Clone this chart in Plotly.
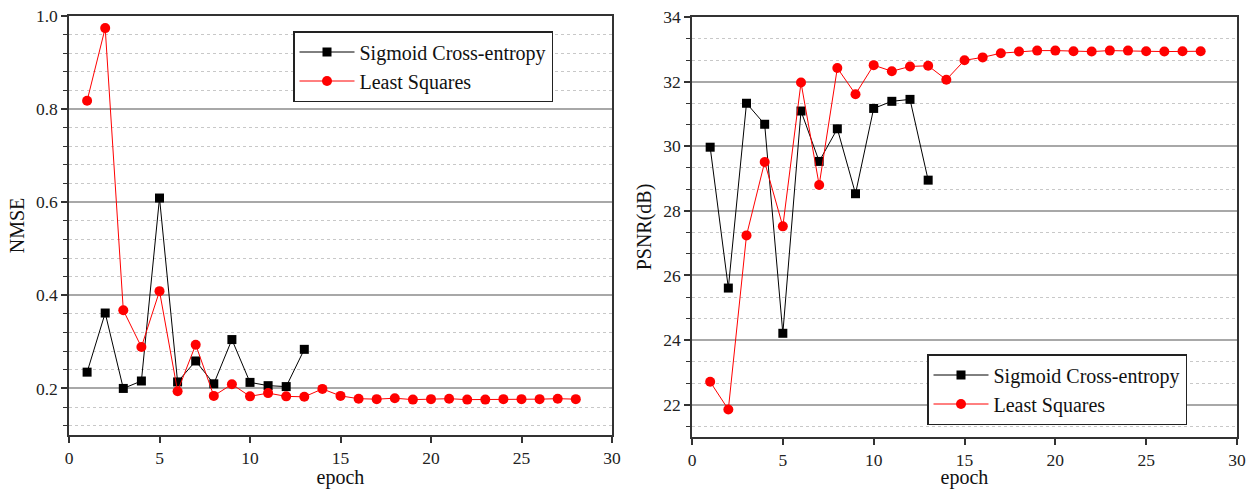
import plotly.graph_objects as go

epochs_sce = list(range(1, 14))
epochs_ls = list(range(1, 29))

nmse_sce = [0.235, 0.362, 0.200, 0.216, 0.609, 0.214, 0.259, 0.210, 0.305, 0.213, 0.206, 0.204, 0.284]
nmse_ls = [0.818, 0.974, 0.368, 0.289, 0.409, 0.194, 0.294, 0.184, 0.209, 0.183, 0.190, 0.183, 0.182, 0.199,
           0.184, 0.178, 0.177, 0.179, 0.176, 0.177, 0.178, 0.176, 0.176, 0.177, 0.177, 0.177, 0.178, 0.177]

psnr_sce = [29.97, 25.61, 31.33, 30.68, 24.21, 31.09, 29.53, 30.54, 28.53, 31.17, 31.39, 31.45, 28.95]
psnr_ls = [22.71, 21.85, 27.24, 29.51, 27.52, 31.97, 28.80, 32.42, 31.61, 32.51, 32.32, 32.47, 32.49, 32.06,
           32.66, 32.75, 32.88, 32.93, 32.96, 32.96, 32.94, 32.93, 32.96, 32.96, 32.94, 32.93, 32.94, 32.94]

name_sce = "Sigmoid Cross-entropy"
name_ls = "Least Squares"

FONT = "Liberation Serif, Times New Roman, serif"

fig = go.Figure()

def add_pair(xa, ya, leg, y_sce, y_ls):
    fig.add_trace(go.Scatter(x=epochs_sce, y=y_sce, name=name_sce, mode="lines+markers",
                             line=dict(color="black", width=1),
                             marker=dict(symbol="square", size=9, color="black"),
                             xaxis=xa, yaxis=ya, legend=leg))
    fig.add_trace(go.Scatter(x=epochs_ls, y=y_ls, name=name_ls, mode="lines+markers",
                             line=dict(color="#ff0000", width=1),
                             marker=dict(symbol="circle", size=10, color="#ff0000"),
                             xaxis=xa, yaxis=ya, legend=leg))

add_pair("x", "y", "legend", nmse_sce, nmse_ls)
add_pair("x2", "y2", "legend2", psnr_sce, psnr_ls)

tickfont = dict(family=FONT, size=17.5, color="#222")
titlefont = dict(family=FONT, size=20, color="#111")

def xaxis(domain, anchor):
    return dict(domain=domain, anchor=anchor, range=[0, 30], tick0=0, dtick=5,
                automargin=False,
                showgrid=False, zeroline=False, showline=True, mirror=True,
                linecolor="#333", linewidth=1.5, ticks="outside", ticklen=6,
                tickcolor="#333", tickwidth=1.5, tickfont=tickfont,
                title=dict(text="epoch", font=titlefont, standoff=4))

def yaxis(domain, anchor, rng, tick0, dtick, mdtick, fmt, title):
    return dict(domain=domain, anchor=anchor, range=rng, tick0=tick0, dtick=dtick,
                automargin=False,
                tickformat=fmt, showgrid=True, gridcolor="#a8a8a8", gridwidth=1.5,
                zeroline=False, showline=True, mirror=True,
                linecolor="#333", linewidth=1.5, ticks="outside", ticklen=6,
                tickcolor="#333", tickwidth=1.5, tickfont=tickfont,
                minor=dict(dtick=mdtick, tick0=tick0, showgrid=True, gridcolor="#c8c8c8",
                           griddash="dot", gridwidth=1, ticks="outside", ticklen=4,
                           tickcolor="#333", tickwidth=1),
                title=dict(text=title, font=titlefont, standoff=6))

legend_style = dict(font=dict(family=FONT, size=20, color="#111"), bgcolor="white",
                    bordercolor="#222", borderwidth=1.5, xanchor="left", yanchor="top",
                    tracegroupgap=0, itemwidth=55)

fig.update_layout(
    template="none",
    width=1256, height=489,
    margin=dict(l=0, r=0, t=0, b=0, autoexpand=False),
    paper_bgcolor="white", plot_bgcolor="white",
    font=dict(family=FONT),
    xaxis=xaxis([69/1256, 612/1256], "y"),
    yaxis=yaxis([1-435/489, 1-16/489], "x", [0.1, 1.0], 0.2, 0.2, 0.04, ".1f", "NMSE"),
    xaxis2=xaxis([692/1256, 1237/1256], "y2"),
    yaxis2=yaxis([1-437/489, 1-17/489], "x2", [21, 34], 22, 2, 2/3, "d", "PSNR(dB)"),
    legend=dict(x=293/1256, y=1-31/489, **legend_style),
    legend2=dict(x=927/1256, y=1-354/489, **legend_style),
)

fig.write_html("out.html")
